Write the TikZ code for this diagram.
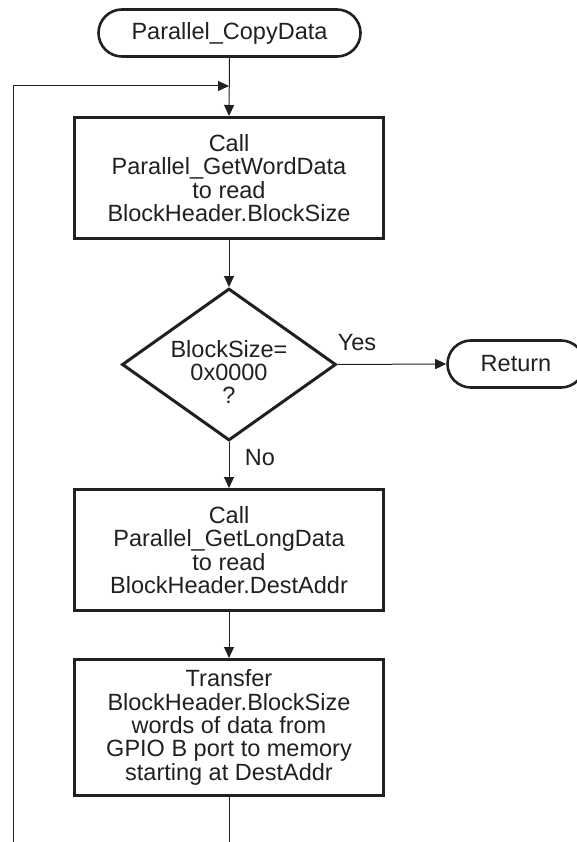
\documentclass[tikz,border=0pt]{standalone}
\usepackage{fontspec}
\setmainfont{Liberation Sans}
\usetikzlibrary{arrows.meta,shapes.misc,shapes.geometric}
\definecolor{ink}{HTML}{231F20}
\tikzset{
  txt/.style={font=\fontsize{23.5}{23.3}\selectfont, text=ink, align=center, inner sep=0pt},
  term/.style={txt, draw=ink, line width=2.6pt, rounded rectangle, minimum height=47pt},
  procbox/.style={txt, draw=ink, line width=3pt, rectangle, minimum width=309pt},
  decbox/.style={draw=ink, line width=3pt, diamond, minimum width=214pt, minimum height=152pt, inner sep=0pt},
  conn/.style={draw=ink, line width=1pt},
  arr/.style={conn, -{Triangle[length=11pt,width=10pt]}},
  lbl/.style={txt}
}
\begin{document}
\begin{tikzpicture}[x=1pt,y=-1pt]
\useasboundingbox (0,0) rectangle (577,842);
\node[term, minimum width=262pt] (start) at (229.5,33) {Parallel\_CopyData};
\node[procbox, minimum height=121pt] (box1) at (229,178) {Call\\Parallel\_GetWordData\\to read\\BlockHeader.BlockSize};
\node[decbox] (dec) at (229,364.5) {};
\node[txt] (dectxt) at (229,372) {BlockSize=\\0x0000\\?};
\node[term, minimum width=137pt] (ret) at (516,364) {Return};
\node[procbox, minimum height=121pt] (box2) at (229,550) {Call\\Parallel\_GetLongData\\to read\\BlockHeader.DestAddr};
\node[procbox, minimum height=136pt] (box3) at (229,727.5) {Transfer\\BlockHeader.BlockSize\\words of data from\\GPIO B port to memory\\starting at DestAddr};
\node[lbl] (yes) at (357,343) {Yes};
\node[lbl] (no) at (260,458) {No};
\coordinate (jn) at (229,86);
\coordinate (tl) at (13,86);
\coordinate (bl) at (13,842);
\coordinate (bot) at (229,842);
\draw[arr] (start.south) -- (box1.north);
\draw[arr] (bl) -- (tl) -- (jn);
\draw[arr] (box1.south) -- (dec.north);
\draw[arr] (dec.east) -- (ret.west);
\draw[arr] (dec.south) -- (box2.north);
\draw[arr] (box2.south) -- (box3.north);
\draw[conn] (box3.south) -- (bot);
\end{tikzpicture}
\end{document}
